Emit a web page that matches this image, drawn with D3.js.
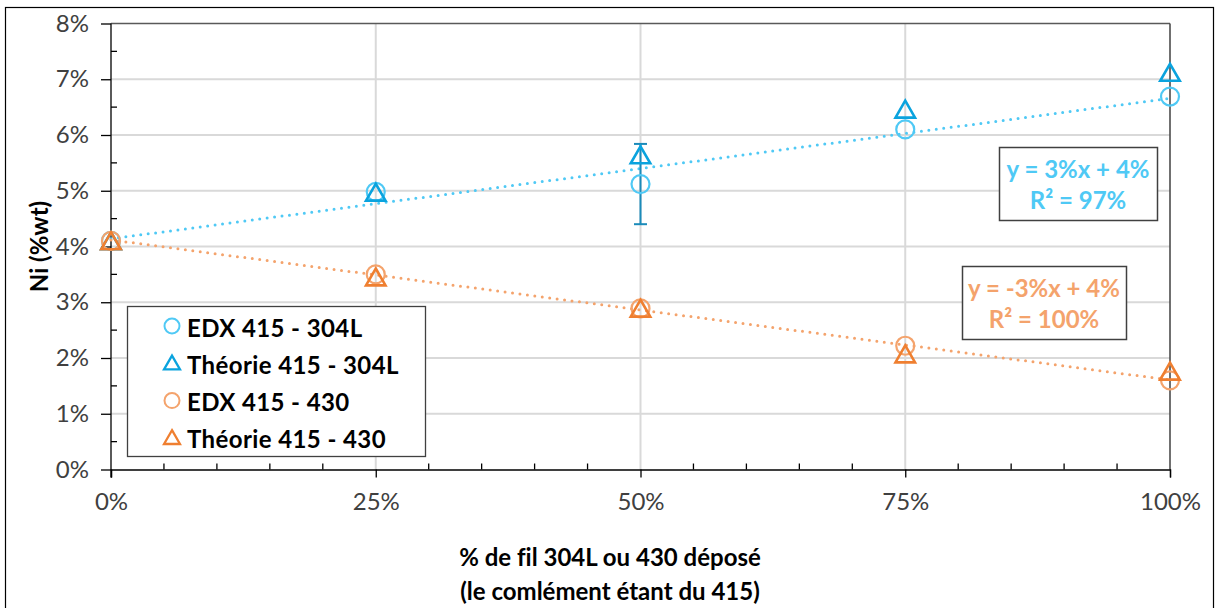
<!DOCTYPE html>
<html><head><meta charset="utf-8">
<script src="https://cdn.jsdelivr.net/npm/d3@7"></script>
<style>html,body{margin:0;padding:0;background:#fff;}svg{display:block;}text{font-variant-ligatures:none;font-feature-settings:"liga" 0;}</style>
</head><body>
<svg id="c" width="1215" height="608"></svg>
<script>
// ---- data ----
const xCats = [0, 25, 50, 75, 100];                 // % de fil déposé
const edx304 = [4.10, 4.98, 5.12, 6.10, 6.69];       // EDX 415 - 304L (Ni %wt)
const edx304Err = [0, 0, 0.72, 0, 0];                // error bars on EDX 415 - 304L
const theo304 = [4.08, 4.95, 5.62, 6.44, 7.10];      // Théorie 415 - 304L
const edx430 = [4.10, 3.50, 2.89, 2.22, 1.60];       // EDX 415 - 430
const theo430 = [4.08, 3.43, 2.87, 2.05, 1.74];      // Théorie 415 - 430
const yTicks = [0, 1, 2, 3, 4, 5, 6, 7, 8];
const xTicks = [0, 25, 50, 75, 100];
const legendLabels = ["EDX 415 - 304L", "Théorie 415 - 304L", "EDX 415 - 430", "Théorie 415 - 430"];
const eq304 = ["y = 3%x + 4%", "R² = 97%"];
const eq430 = ["y = -3%x + 4%", "R² = 100%"];

const C = {
  edx304: "#4FC9F5", theo304: "#0AA3DE", edx430: "#F4A36C", theo430: "#EF7F30",
  err: "#1B8BBA", grid: "#D9D9D9", text: "#404040"
};

const svg = d3.select("#c");
const font = "Lato, 'Open Sans', sans-serif";

// outer frame
svg.append("rect").attr("x", 5.5).attr("y", 7.5).attr("width", 1208).attr("height", 612)
  .attr("fill", "#fff").attr("stroke", "#000").attr("stroke-width", 1.2);

const x = d3.scaleLinear().domain([0, 100]).range([111, 1170]);
const y = d3.scaleLinear().domain([0, 8]).range([469.5, 23.5]);

// gridlines
svg.append("g").selectAll("line").data(yTicks.slice(1, -1)).join("line")
  .attr("x1", x(0)).attr("x2", x(100)).attr("y1", d => y(d)).attr("y2", d => y(d))
  .attr("stroke", C.grid).attr("stroke-width", 2);
svg.append("g").selectAll("line").data(xTicks.slice(1, -1)).join("line")
  .attr("y1", y(0)).attr("y2", y(8)).attr("x1", d => x(d)).attr("x2", d => x(d))
  .attr("stroke", C.grid).attr("stroke-width", 2);

// plot border top & right
svg.append("line").attr("x1", x(0)).attr("x2", x(100)).attr("y1", y(8)).attr("y2", y(8))
  .attr("stroke", "#595959").attr("stroke-width", 1.5);
svg.append("line").attr("x1", x(100)).attr("x2", x(100)).attr("y1", y(8)).attr("y2", y(0))
  .attr("stroke", "#404040").attr("stroke-width", 1.5);

// axes
const yAxis = d3.axisLeft(y).tickValues(yTicks).tickFormat(d => d + "%").tickSize(10).tickPadding(12);
const gy = svg.append("g").attr("transform", `translate(${x(0)},0)`).call(yAxis);
const xAxis = d3.axisBottom(x).tickValues(xTicks).tickFormat(d => d + "%").tickSize(8).tickPadding(15);
const gx = svg.append("g").attr("transform", `translate(0,${y(0)})`).call(xAxis);
[gx, gy].forEach(g => {
  g.select(".domain").attr("stroke", "#000").attr("stroke-width", 1.3);
  g.selectAll(".tick line").attr("stroke", "#000").attr("stroke-width", 1.3);
  g.selectAll(".tick text").attr("font-family", font).attr("font-size", 24).attr("fill", "#404040");
});
gy.select(".domain").attr("d", `M0,${y(8)}V${y(0) + 8}`);
// minor ticks (inward)
svg.append("g").selectAll("line").data(d3.range(0.5, 8, 1)).join("line")
  .attr("x1", x(0)).attr("x2", x(0) + 6).attr("y1", d => y(d)).attr("y2", d => y(d))
  .attr("stroke", "#000").attr("stroke-width", 1.3);
svg.append("g").selectAll("line").data(d3.range(5, 100, 5).filter(d => d % 25 !== 0)).join("line")
  .attr("x1", d => x(d)).attr("x2", d => x(d)).attr("y1", y(0)).attr("y2", y(0) - 6)
  .attr("stroke", "#000").attr("stroke-width", 1.3);

// axis titles
svg.append("text").attr("transform", `translate(38,${y(4)}) rotate(-90)`).attr("text-anchor", "middle")
  .attr("dominant-baseline", "central").attr("font-family", font).attr("font-weight", "bold")
  .attr("font-size", 24).attr("fill", "#000").text("Ni (%wt)");
svg.append("text").attr("x", 610).attr("y", 566).attr("text-anchor", "middle")
  .attr("font-family", font).attr("font-weight", "bold").attr("font-size", 24).attr("fill", "#000")
  .text("% de fil 304L ou 430 déposé");
svg.append("text").attr("x", 610).attr("y", 600).attr("text-anchor", "middle")
  .attr("font-family", font).attr("font-weight", "bold").attr("font-size", 24).attr("fill", "#000")
  .text("(le comlément étant du 415)");

// trendlines (least squares over EDX data)
function fit(xs, ys) {
  const mx = d3.mean(xs), my = d3.mean(ys);
  const b = d3.sum(xs, (v, i) => (v - mx) * (ys[i] - my)) / d3.sum(xs, v => (v - mx) ** 2);
  return { a: my - b * mx, b };
}
[[edx304, C.edx304], [edx430, C.edx430]].forEach(([ys, col]) => {
  const f = fit(xCats, ys);
  svg.append("line").attr("x1", x(0)).attr("y1", y(f.a)).attr("x2", x(100)).attr("y2", y(f.a + f.b * 100))
    .attr("stroke", col).attr("stroke-width", 3).attr("stroke-linecap", "round")
    .attr("stroke-dasharray", "0 7.5");
});

// markers
const tri = d3.symbol().type(d3.symbolTriangle).size(165);
function circles(data, col) {
  svg.append("g").selectAll("circle").data(data).join("circle")
    .attr("cx", (d, i) => x(xCats[i])).attr("cy", d => y(d)).attr("r", 9)
    .attr("fill", "none").attr("stroke", col).attr("stroke-width", 2.2);
}
function triangles(data, col) {
  svg.append("g").selectAll("path").data(data).join("path")
    .attr("transform", (d, i) => `translate(${x(xCats[i])},${y(d) + 1.5})`).attr("d", tri)
    .attr("fill", "none").attr("stroke", col).attr("stroke-width", 2.6).attr("stroke-linejoin", "miter");
}
// error bars
const eg = svg.append("g");
edx304.forEach((v, i) => {
  const e = edx304Err[i];
  if (!e) return;
  const cx = x(xCats[i]);
  eg.append("line").attr("x1", cx).attr("x2", cx).attr("y1", y(v - e)).attr("y2", y(v + e))
    .attr("stroke", C.err).attr("stroke-width", 2);
  [v - e, v + e].forEach(t => eg.append("line").attr("x1", cx - 6.5).attr("x2", cx + 6.5)
    .attr("y1", y(t)).attr("y2", y(t)).attr("stroke", C.err).attr("stroke-width", 2));
});
circles(edx304, C.edx304);
triangles(theo304, C.theo304);
circles(edx430, C.edx430);
triangles(theo430, C.theo430);

// legend
const lg = svg.append("g");
lg.append("rect").attr("x", 127.5).attr("y", 306.5).attr("width", 298).attr("height", 150)
  .attr("fill", "#fff").attr("stroke", "#404040").attr("stroke-width", 1.3);
const legCols = [C.edx304, C.theo304, C.edx430, C.theo430];
const triL = d3.symbol().type(d3.symbolTriangle).size(110);
legendLabels.forEach((lab, i) => {
  const cy = 326 + i * 37.3;
  if (i % 2 === 0) {
    lg.append("circle").attr("cx", 172).attr("cy", cy).attr("r", 7.5).attr("fill", "none")
      .attr("stroke", legCols[i]).attr("stroke-width", 2);
  } else {
    lg.append("path").attr("transform", `translate(172,${cy + 1.5})`).attr("d", triL).attr("fill", "none")
      .attr("stroke", legCols[i]).attr("stroke-width", 2.3);
  }
  lg.append("text").attr("x", 187).attr("y", cy + 1).attr("dominant-baseline", "central")
    .attr("font-family", font).attr("font-weight", "bold").attr("font-size", 24)
    .attr("letter-spacing", 0.4).attr("fill", "#000").text(lab);
});

// equation boxes
function eqBox(x0, y0, w, h, lines, col) {
  const g = svg.append("g");
  g.append("rect").attr("x", x0 + 0.5).attr("y", y0 + 0.5).attr("width", w).attr("height", h)
    .attr("fill", "#fff").attr("stroke", "#404040").attr("stroke-width", 1.5);
  lines.forEach((t, i) => g.append("text").attr("x", x0 + w / 2).attr("y", y0 + 31 + i * 31)
    .attr("text-anchor", "middle").attr("font-family", font).attr("font-weight", "bold")
    .attr("font-size", 24).attr("fill", col).text(t));
}
eqBox(999, 147, 158, 73, eq304, C.edx304);
eqBox(962, 266, 164, 73, eq430, C.edx430);
</script>
</body></html>
